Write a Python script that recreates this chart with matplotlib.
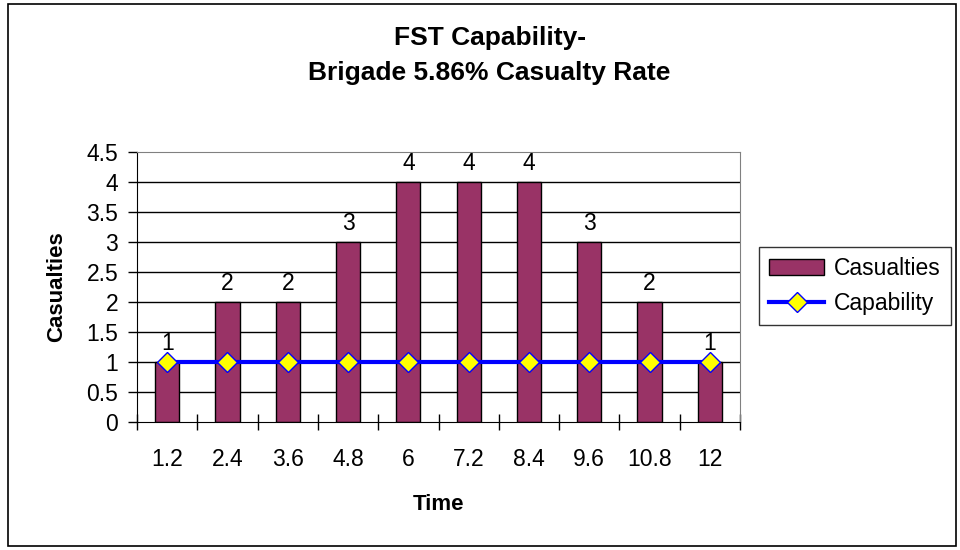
import matplotlib
matplotlib.use("Agg")
import numpy as np
import matplotlib.pyplot as plt
from matplotlib.patches import Rectangle, Patch
from matplotlib.lines import Line2D

# ---------- Data ----------
times = ["1.2", "2.4", "3.6", "4.8", "6", "7.2", "8.4", "9.6", "10.8", "12"]
casualties = [1, 2, 2, 3, 4, 4, 4, 3, 2, 1]
capability = [1, 1, 1, 1, 1, 1, 1, 1, 1, 1]
y_ticks = [0, 0.5, 1, 1.5, 2, 2.5, 3, 3.5, 4, 4.5]
y_labels = ["0", "0.5", "1", "1.5", "2", "2.5", "3", "3.5", "4", "4.5"]

plt.rcParams.update({
    "font.family": ["Liberation Sans", "DejaVu Sans"],
    "font.size": 16.5,
})

BAR_COLOR = "#993366"
LINE_COLOR = "#0000FF"

fig = plt.figure(figsize=(9.6, 5.5), dpi=100)
ax = fig.add_axes([137 / 960, 1 - 422 / 550, 603 / 960, 270 / 550])

x = np.arange(len(times))

# gridlines behind
for yv in y_ticks[1:-1]:
    ax.axhline(yv, color="black", lw=1, zorder=0)

ax.bar(x, casualties, width=0.4, color=BAR_COLOR, edgecolor="black", lw=1, zorder=2)
for xi, v in zip(x, casualties):
    ax.annotate(str(v), (xi, v), xytext=(0, 5), textcoords="offset points",
                ha="center", va="bottom", fontsize=16.5)

ax.plot(x, capability, color=LINE_COLOR, lw=3, marker="D", markersize=10,
        markerfacecolor="#FFFF00", markeredgecolor=LINE_COLOR, markeredgewidth=1,
        zorder=3)

ax.set_xlim(-0.5, len(times) - 0.5)
ax.set_ylim(0, 4.5)

# x ticks: marks at category boundaries, labels at centers
ax.set_xticks(np.arange(-0.5, len(times), 1.0))
ax.set_xticklabels([])
ax.set_xticks(x, minor=True)
ax.set_xticklabels(times, minor=True)
ax.tick_params(axis="x", which="major", direction="inout", length=12, width=1, color="black")
ax.tick_params(axis="x", which="minor", length=0, pad=19)
ax.set_yticks(y_ticks)
ax.set_yticklabels(y_labels)
ax.tick_params(axis="y", direction="out", length=6.5, width=1, pad=7)

for s in ["top", "right"]:
    ax.spines[s].set_color("#808080")
ax.spines["left"].set_color("black")
ax.spines["bottom"].set_color("black")

ax.set_ylabel("Casualties", fontweight="bold", fontsize=16, labelpad=14)
ax.set_xlabel("Time", fontweight="bold", fontsize=16, labelpad=16)

fig.text(0.51, 1 - 38 / 550, "FST Capability-", ha="center", va="center",
         fontweight="bold", fontsize=19)
fig.text(0.51, 1 - 73 / 550, "Brigade 5.86% Casualty Rate", ha="center", va="center",
         fontweight="bold", fontsize=19)

handles = [
    Patch(facecolor=BAR_COLOR, edgecolor="black", label="Casualties"),
    Line2D([], [], color=LINE_COLOR, lw=3, marker="D", markersize=10,
           markerfacecolor="#FFFF00", markeredgecolor=LINE_COLOR, label="Capability"),
]
leg = fig.legend(handles=handles, loc="upper left",
                 bbox_to_anchor=(759 / 960, 1 - 247 / 550), fontsize=16.5,
                 frameon=True, fancybox=False, edgecolor="black",
                 handlelength=2.4, handletextpad=0.4, borderpad=0.45,
                 labelspacing=0.5, borderaxespad=0)
leg.get_frame().set_linewidth(1)

fig.patches.append(Rectangle((8 / 960, 4 / 550), 948 / 960, 542 / 550,
                             transform=fig.transFigure, fill=False,
                             edgecolor="black", lw=1.2))

fig.savefig("out.png", dpi=100)
